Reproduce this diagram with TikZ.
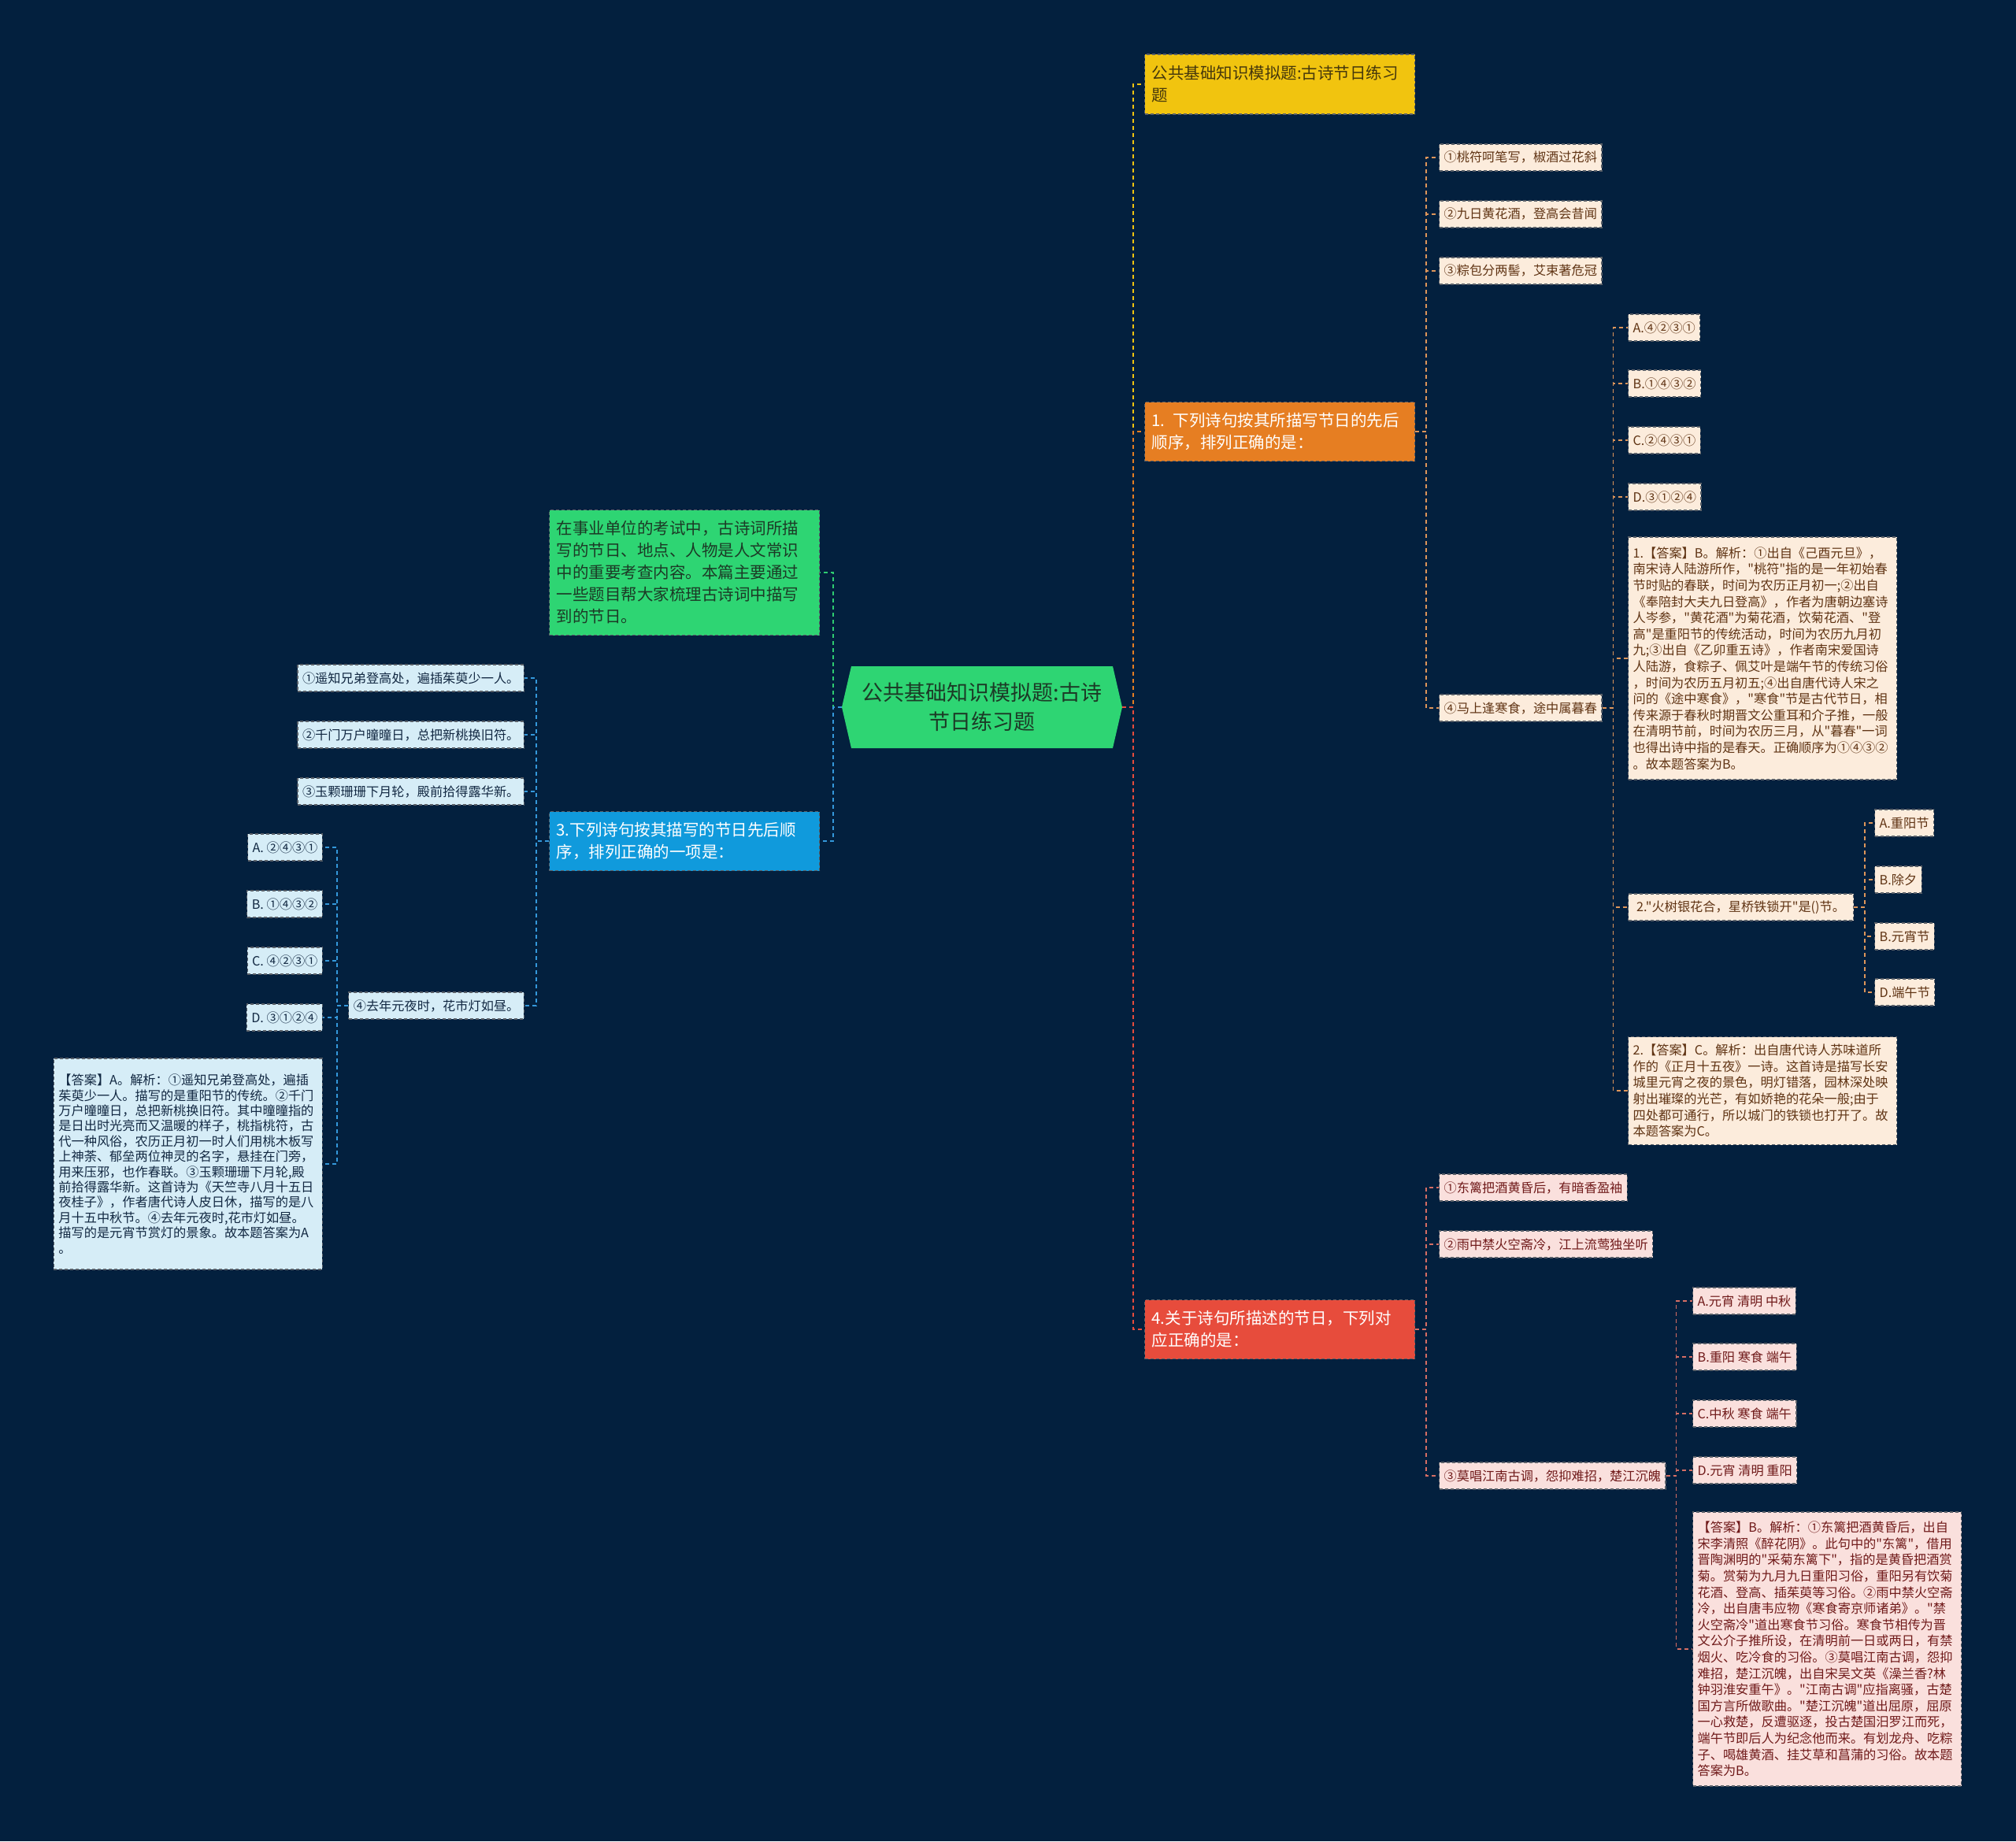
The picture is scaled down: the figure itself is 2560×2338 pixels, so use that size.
\documentclass[tikz,border=0pt]{standalone}
\usepackage{fontspec}
\setmainfont{Noto Sans CJK SC}[Ligatures=TeXOff]
\usetikzlibrary{shapes.symbols}

\definecolor{bgnavy}{RGB}{3,32,62}
\definecolor{cgreen}{RGB}{46,213,115}
\definecolor{cyellow}{RGB}{241,196,15}
\definecolor{corange}{RGB}{230,126,34}
\definecolor{cred}{RGB}{231,76,60}
\definecolor{cblue}{RGB}{16,154,220}
\definecolor{lgreen}{RGB}{46,204,113}
\definecolor{lblue}{RGB}{52,152,219}
\definecolor{lorange}{RGB}{222,150,90}
\definecolor{lred}{RGB}{214,110,100}
\definecolor{fblue}{RGB}{214,237,247}
\definecolor{forange}{RGB}{252,236,220}
\definecolor{fred}{RGB}{250,224,221}
\definecolor{tblue}{RGB}{18,40,66}
\definecolor{torange}{RGB}{96,52,20}
\definecolor{tred}{RGB}{112,26,26}
\definecolor{tdark}{RGB}{28,58,38}
\definecolor{tyellow}{RGB}{70,56,12}
\definecolor{boxedge}{RGB}{90,96,104}

\tikzset{
	boxbase/.style={draw=boxedge,line width=1.2pt,dash pattern=on 4pt off 3pt,align=left,anchor=west,inner ysep=4pt},
	leaf/.style={boxbase,inner xsep=6pt,minimum height=34pt,font=\fontsize{16.2}{20.6}\selectfont},
	leafB/.style={leaf,fill=fblue,text=tblue},
	leafO/.style={leaf,fill=forange,text=torange},
	leafR/.style={leaf,fill=fred,text=tred},
	answer/.style={text width=329pt},
	branch/.style={boxbase,inner xsep=9pt,text width=325pt,minimum height=75pt,font=\fontsize{20.5}{28}\selectfont},
	link/.style={line width=1.6pt,dash pattern=on 5pt off 4pt}
}

\begin{document}
\begin{tikzpicture}[x=1pt,y=-1pt]
	\fill[bgnavy] (0,0) rectangle (2560,2338);
	\node[signal,signal to=west and east,signal pointer angle=154,fill=cgreen,text=tdark,minimum width=356pt,minimum height=104pt,align=center,inner sep=0pt,font=\fontsize{27}{37}\selectfont] (root) at (1247,898) {公共基础知识模拟题:古诗\\节日练习题};

	\node[branch,fill=cyellow,text=tyellow,minimum height=76pt] (yel) at (1453,107) {公共基础知识模拟题:古诗节日练习\\题};
	\node[branch,fill=corange,text=white] (ora) at (1453,548) {1. 下列诗句按其所描写节日的先后\\顺序，排列正确的是：};
	\node[branch,fill=cred,text=white] (red) at (1453,1688) {4.关于诗句所描述的节日，下列对\\应正确的是：};
	\node[branch,fill=cgreen,text=tdark,minimum height=159pt] (intro) at (697,727) {在事业单位的考试中，古诗词所描\\写的节日、地点、人物是人文常识\\中的重要考查内容。本篇主要通过\\一些题目帮大家梳理古诗词中描写\\到的节日。};
	\node[branch,fill=cblue,text=white] (q3) at (697,1068) {3.下列诗句按其描写的节日先后顺\\序，排列正确的一项是：};

	\node[leafB,anchor=east] (b1) at (666,861) {①遥知兄弟登高处，遍插茱萸少一人。};
	\node[leafB,anchor=east] (b2) at (666,933) {②千门万户曈曈日，总把新桃换旧符。};
	\node[leafB,anchor=east] (b3) at (666,1005) {③玉颗珊珊下月轮，殿前拾得露华新。};
	\node[leafB,anchor=east] (b4) at (666,1277) {④去年元夜时，花市灯如昼。};
	\node[leafB,anchor=east] (bA) at (410,1076) {A. ②④③①};
	\node[leafB,anchor=east] (bB) at (410,1148) {B. ①④③②};
	\node[leafB,anchor=east] (bC) at (410,1220) {C. ④②③①};
	\node[leafB,anchor=east] (bD) at (410,1292) {D. ③①②④};
	\node[leafB,answer,anchor=east,minimum height=268pt,font=\fontsize{16.2}{19.4}\selectfont] (bAns) at (410,1478) {【答案】A。解析：①遥知兄弟登高处，遍插\\茱萸少一人。描写的是重阳节的传统。②千门\\万户曈曈日，总把新桃换旧符。其中曈曈指的\\是日出时光亮而又温暖的样子，桃指桃符，古\\代一种风俗，农历正月初一时人们用桃木板写\\上神荼、郁垒两位神灵的名字，悬挂在门旁，\\用来压邪，也作春联。③玉颗珊珊下月轮,殿\\前拾得露华新。这首诗为《天竺寺八月十五日\\夜桂子》，作者唐代诗人皮日休，描写的是八\\月十五中秋节。④去年元夜时,花市灯如昼。\\描写的是元宵节赏灯的景象。故本题答案为A\\。};

	\node[leafO] (o1) at (1827,200) {①桃符呵笔写，椒酒过花斜};
	\node[leafO] (o2) at (1827,272) {②九日黄花酒，登高会昔闻};
	\node[leafO] (o3) at (1827,344) {③粽包分两髻，艾束著危冠};
	\node[leafO] (o4) at (1827,899) {④马上逢寒食，途中属暮春};
	\node[leafO] (oA) at (2067,416) {A.④②③①};
	\node[leafO] (oB) at (2067,487) {B.①④③②};
	\node[leafO] (oC) at (2067,559) {C.②④③①};
	\node[leafO] (oD) at (2067,631) {D.③①②④};
	\node[leafO,answer,minimum height=308pt] (oAns) at (2067,836) {1.【答案】B。解析：①出自《己酉元旦》，\\南宋诗人陆游所作，"桃符"指的是一年初始春\\节时贴的春联，时间为农历正月初一;②出自\\《奉陪封大夫九日登高》，作者为唐朝边塞诗\\人岑参，"黄花酒"为菊花酒，饮菊花酒、"登\\高"是重阳节的传统活动，时间为农历九月初\\九;③出自《乙卯重五诗》，作者南宋爱国诗\\人陆游，食粽子、佩艾叶是端午节的传统习俗\\，时间为农历五月初五;④出自唐代诗人宋之\\问的《途中寒食》，"寒食"节是古代节日，相\\传来源于春秋时期晋文公重耳和介子推，一般\\在清明节前，时间为农历三月，从"暮春"一词\\也得出诗中指的是春天。正确顺序为①④③②\\。故本题答案为B。};
	\node[leafO,minimum width=286pt] (q2) at (2067,1152) {2."火树银花合，星桥铁锁开"是()节。};
	\node[leafO,answer,minimum height=137pt] (q2Ans) at (2067,1385) {2.【答案】C。解析：出自唐代诗人苏味道所\\作的《正月十五夜》一诗。这首诗是描写长安\\城里元宵之夜的景色，明灯错落，园林深处映\\射出璀璨的光芒，有如娇艳的花朵一般;由于\\四处都可通行，所以城门的铁锁也打开了。故\\本题答案为C。};
	\node[leafO] (qA) at (2380,1045) {A.重阳节};
	\node[leafO] (qB) at (2380,1117) {B.除夕};
	\node[leafO] (qC) at (2380,1189) {B.元宵节};
	\node[leafO] (qD) at (2380,1260) {D.端午节};

	\node[leafR] (r1) at (1827,1508) {①东篱把酒黄昏后，有暗香盈袖};
	\node[leafR] (r2) at (1827,1580) {②雨中禁火空斋冷，江上流莺独坐听};
	\node[leafR] (r3) at (1827,1874) {③莫唱江南古调，怨抑难招，楚江沉魄};
	\node[leafR] (rA) at (2149,1652) {A.元宵 清明 中秋};
	\node[leafR] (rB) at (2149,1723) {B.重阳 寒食 端午};
	\node[leafR] (rC) at (2149,1795) {C.中秋 寒食 端午};
	\node[leafR] (rD) at (2149,1867) {D.元宵 清明 重阳};
	\node[leafR,answer,minimum height=348pt] (rAns) at (2149,2094) {【答案】B。解析：①东篱把酒黄昏后，出自\\宋李清照《醉花阴》。此句中的"东篱"，借用\\晋陶渊明的"采菊东篱下"，指的是黄昏把酒赏\\菊。赏菊为九月九日重阳习俗，重阳另有饮菊\\花酒、登高、插茱萸等习俗。②雨中禁火空斋\\冷，出自唐韦应物《寒食寄京师诸弟》。"禁\\火空斋冷"道出寒食节习俗。寒食节相传为晋\\文公介子推所设，在清明前一日或两日，有禁\\烟火、吃冷食的习俗。③莫唱江南古调，怨抑\\难招，楚江沉魄，出自宋吴文英《澡兰香?林\\钟羽淮安重午》。"江南古调"应指离骚，古楚\\国方言所做歌曲。"楚江沉魄"道出屈原，屈原\\一心救楚，反遭驱逐，投古楚国汨罗江而死，\\端午节即后人为纪念他而来。有划龙舟、吃粽\\子、喝雄黄酒、挂艾草和菖蒲的习俗。故本题\\答案为B。};

	\draw[link,cyellow] (root.east) -- ++(14,0) |- (yel.west);
	\draw[link,corange] (root.east) -- ++(14,0) |- (ora.west);
	\draw[link,cred] (root.east) -- ++(14,0) |- (red.west);
	\draw[link,lgreen] (root.west) -- ++(-11,0) |- (intro.east);
	\draw[link,lblue] (root.west) -- ++(-11,0) |- (q3.east);
	\foreach \n in {b1,b2,b3,b4}
		\draw[link,lblue] (q3.west) -- ++(-16,0) |- (\n.east);
	\foreach \n in {bA,bB,bC,bD,bAns}
		\draw[link,lblue] (b4.west) -- ++(-14,0) |- (\n.east);
	\foreach \n in {o1,o2,o3,o4}
		\draw[link,lorange] (ora.east) -- ++(14,0) |- (\n.west);
	\foreach \n in {oA,oB,oC,oD,oAns,q2,q2Ans}
		\draw[link,lorange] (o4.east) -- ++(14,0) |- (\n.west);
	\foreach \n in {qA,qB,qC,qD}
		\draw[link,lorange] (q2.east) -- ++(14,0) |- (\n.west);
	\foreach \n in {r1,r2,r3}
		\draw[link,lred] (red.east) -- ++(14,0) |- (\n.west);
	\foreach \n in {rA,rB,rC,rD,rAns}
		\draw[link,lred] (r3.east) -- ++(13,0) |- (\n.west);
\end{tikzpicture}
\end{document}
